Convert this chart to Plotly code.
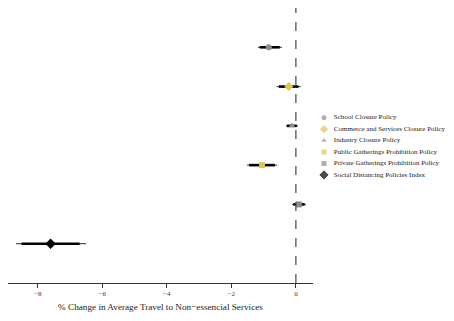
import plotly.graph_objects as go

# ---- data ----
policies = ["School Closure Policy",
            "Commerce and Services Closure Policy",
            "Industry Closure Policy",
            "Public Gatherings Prohibition Policy",
            "Private Gatherings Prohibition Policy",
            "Social Distancing Policies Index"]
estimate = [-0.84, -0.22, -0.12, -1.05, 0.09, -7.60]
lo95 = [-1.18, -0.60, -0.31, -1.52, -0.12, -8.67]
hi95 = [-0.43, 0.15, 0.06, -0.58, 0.31, -6.50]
lo90 = [-1.12, -0.53, -0.28, -1.45, -0.08, -8.50]
hi90 = [-0.50, 0.08, 0.03, -0.65, 0.27, -6.70]
symbols = ["circle", "diamond", "triangle-up", "square", "square", "diamond"]
colors = ["#8c8c8c", "#dcc65c", "#8c8c8c", "#dcc65c", "#8c8c8c", "#000000"]
sizes = [6, 7, 6, 6, 6, 8]
xticks = [-8, -6, -4, -2, 0]
xticklabels = ["\u22128", "\u22126", "\u22124", "\u22122", "0"]
xtitle = "% Change in Average Travel to Non\u2212essencial Services"

FONT = "Liberation Serif, Times New Roman, serif"
pos = list(range(1, len(policies) + 1))

fig = go.Figure()
for i, name in enumerate(policies):
    # outer (thin) interval
    fig.add_trace(go.Scatter(
        x=[estimate[i]], y=[pos[i]], mode="markers",
        marker=dict(size=1, color="rgba(0,0,0,0)"),
        error_x=dict(type="data", symmetric=False,
                     array=[hi95[i] - estimate[i]],
                     arrayminus=[estimate[i] - lo95[i]],
                     color="#555555", thickness=1.2, width=0),
        showlegend=False, hoverinfo="skip"))
    # inner (thick) interval + point
    fig.add_trace(go.Scatter(
        x=[estimate[i]], y=[pos[i]], mode="markers",
        marker=dict(symbol=symbols[i], size=sizes[i], color=colors[i]),
        error_x=dict(type="data", symmetric=False,
                     array=[hi90[i] - estimate[i]],
                     arrayminus=[estimate[i] - lo90[i]],
                     color="#000000", thickness=2.6, width=0),
        name=name, showlegend=False))

# manual legend drawn on its own axes
leg_rows = list(range(len(policies)))
fig.add_trace(go.Scatter(
    x=[0.079] * len(policies), y=leg_rows, mode="markers",
    marker=dict(symbol=symbols, size=[6, 7, 6, 6, 6, 8], color=colors),
    xaxis="x2", yaxis="y2", showlegend=False, hoverinfo="skip", cliponaxis=False))
fig.add_trace(go.Scatter(
    x=[0.15] * len(policies), y=leg_rows, mode="text", text=policies,
    textposition="middle right", cliponaxis=False,
    textfont=dict(family=FONT, size=7, color="#1a1a1a"),
    xaxis="x2", yaxis="y2", showlegend=False, hoverinfo="skip"))

fig.add_shape(type="line", xref="x", yref="y domain", x0=0, x1=0, y0=0, y1=1,
              line=dict(color="#444444", width=1.2, dash="dash"))

# page body has an 8px margin, so the figure is sized/offset accordingly
dom = 305 / 444
fig.update_layout(
    width=446, height=313,
    margin=dict(l=0, r=2, t=0, b=38),
    paper_bgcolor="white", plot_bgcolor="white",
    font=dict(family=FONT, color="#222222"),
    showlegend=False,
    xaxis=dict(domain=[0, dom], range=[-8.92, 0.53], tickvals=xticks,
               ticktext=xticklabels, showgrid=False, zeroline=False,
               showline=True, linecolor="#333333", linewidth=1,
               ticks="outside", ticklen=4, tickcolor="#333333",
               tickfont=dict(size=7, family=FONT, color="#333333"),
               automargin=False,
               title=dict(text=xtitle, font=dict(size=9.2, family=FONT, color="#222222"),
                          standoff=6)),
    yaxis=dict(range=[7, 0], showgrid=False, zeroline=False, showline=False,
               showticklabels=False, ticks="", automargin=False),
    xaxis2=dict(domain=[dom, 1], range=[0, 1], visible=False, anchor="y2"),
    yaxis2=dict(domain=[0, 1], range=[14.44, -9.58], visible=False, anchor="x2"),
)

fig.write_html("out.html")
